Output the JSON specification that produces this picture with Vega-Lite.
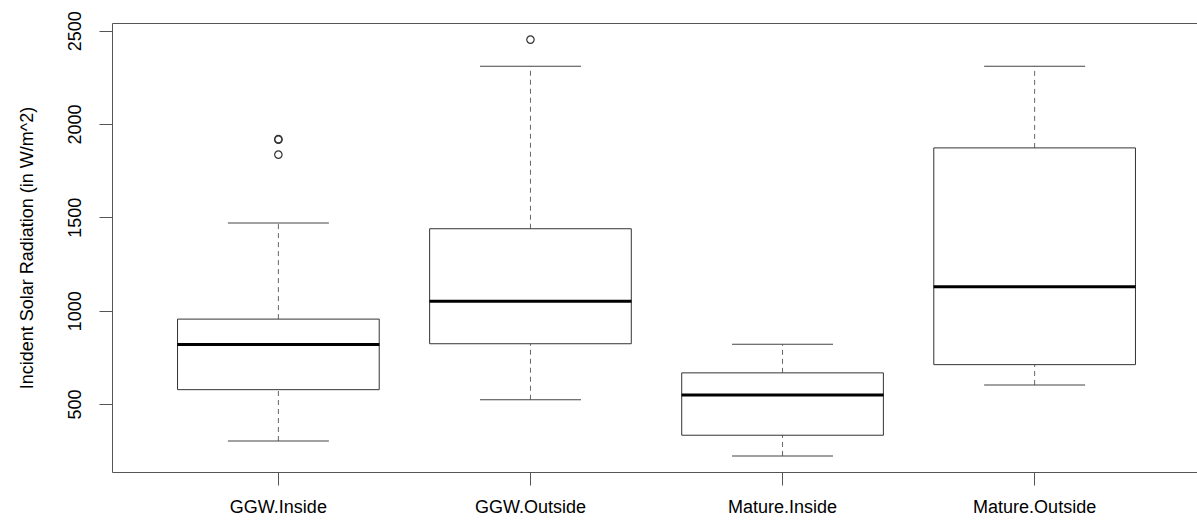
{
  "$schema": "https://vega.github.io/schema/vega-lite/v6.json",
  "autosize": {"type": "none"},
  "padding": {"left": 112, "top": 23, "right": 0, "bottom": 55},
  "width": 1085,
  "height": 449,
  "background": "white",
  "config": {
    "view": {"stroke": null},
    "font": "Liberation Sans"
  },
  "datasets": {
    "stats": [
      {"group": "GGW.Inside", "lower": 302, "q1": 577, "median": 819, "q3": 955, "upper": 1470},
      {"group": "GGW.Outside", "lower": 523, "q1": 823, "median": 1050, "q3": 1439, "upper": 2309},
      {"group": "Mature.Inside", "lower": 222, "q1": 333, "median": 548, "q3": 667, "upper": 820},
      {"group": "Mature.Outside", "lower": 602, "q1": 711, "median": 1128, "q3": 1872, "upper": 2309}
    ],
    "outliers": [
      {"group": "GGW.Inside", "value": 1916},
      {"group": "GGW.Inside", "value": 1919},
      {"group": "GGW.Inside", "value": 1836},
      {"group": "GGW.Outside", "value": 2452}
    ]
  },
  "resolve": {"axis": {"x": "independent"}},
  "layer": [
    {
      "data": {"name": "stats"},
      "mark": {"type": "rule", "color": "#666", "strokeWidth": 1, "strokeDash": [5, 4]},
      "encoding": {
        "x": {
          "field": "group", "type": "nominal", "sort": null,
          "scale": {"type": "band", "paddingInner": 0.2, "paddingOuter": 0.26, "range": [0, 1089]},
          "axis": {
            "orient": "bottom", "title": null, "labelAngle": 0,
            "domainColor": "#555", "tickColor": "#555", "tickSize": 13,
            "labelFontSize": 18, "labelColor": "#000", "labelPadding": 13
          }
        },
        "y": {
          "field": "q3", "type": "quantitative",
          "scale": {"domain": [136, 2541], "nice": false, "zero": false},
          "axis": {
            "values": [500, 1000, 1500, 2000, 2500], "format": "d", "grid": false,
            "domainColor": "#555", "tickColor": "#555", "tickSize": 13,
            "labelAngle": -90, "labelAlign": "center", "labelBaseline": "bottom",
            "labelPadding": 15, "labelFontSize": 18, "labelColor": "#000",
            "title": "Incident Solar Radiation (in W/m^2)", "titleFontSize": 18,
            "titleFontWeight": "normal", "titleColor": "#000", "titlePadding": 30
          }
        },
        "y2": {"field": "upper"}
      }
    },
    {
      "data": {"name": "stats"},
      "mark": {"type": "rule", "color": "#666", "strokeWidth": 1, "strokeDash": [5, 4]},
      "encoding": {
        "x": {"field": "group", "type": "nominal", "sort": null, "axis": null},
        "y": {"field": "lower", "type": "quantitative"},
        "y2": {"field": "q1"}
      }
    },
    {
      "data": {"name": "stats"},
      "mark": {"type": "tick", "color": "#444", "size": 101, "thickness": 1, "opacity": 1},
      "encoding": {
        "x": {"field": "group", "type": "nominal", "sort": null, "axis": null},
        "y": {"field": "upper", "type": "quantitative"}
      }
    },
    {
      "data": {"name": "stats"},
      "mark": {"type": "tick", "color": "#444", "size": 101, "thickness": 1, "opacity": 1},
      "encoding": {
        "x": {"field": "group", "type": "nominal", "sort": null, "axis": null},
        "y": {"field": "lower", "type": "quantitative"}
      }
    },
    {
      "data": {"name": "stats"},
      "mark": {"type": "bar", "fill": "white", "stroke": "#333", "strokeWidth": 1, "opacity": 1},
      "encoding": {
        "x": {"field": "group", "type": "nominal", "sort": null, "axis": null},
        "y": {"field": "q1", "type": "quantitative"},
        "y2": {"field": "q3"}
      }
    },
    {
      "data": {"name": "stats"},
      "mark": {"type": "tick", "color": "#000", "size": 202, "thickness": 3, "opacity": 1},
      "encoding": {
        "x": {"field": "group", "type": "nominal", "sort": null, "axis": null},
        "y": {"field": "median", "type": "quantitative"}
      }
    },
    {
      "data": {"name": "outliers"},
      "mark": {"type": "point", "shape": "circle", "filled": false, "size": 55, "strokeWidth": 1.2, "color": "#333", "opacity": 1},
      "encoding": {
        "x": {
          "field": "group", "type": "nominal", "sort": null,
          "axis": {"orient": "top", "title": null, "labels": false, "ticks": false, "domainColor": "#555"}
        },
        "y": {"field": "value", "type": "quantitative"}
      }
    }
  ]
}
